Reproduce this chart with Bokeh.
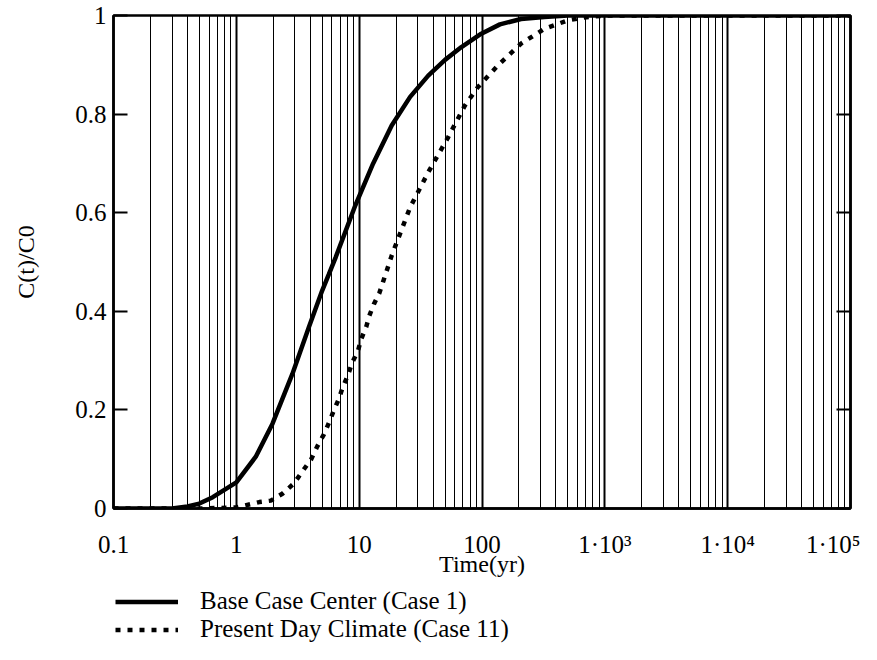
from bokeh.plotting import figure
from bokeh.layouts import column
from bokeh.models import FixedTicker, LinearAxis, Legend, LegendItem, Range1d
from bokeh.embed import file_html
from bokeh.resources import INLINE

# Base Case Center (Case 1)
time_base = [0.1, 0.3, 0.4, 0.5, 0.643, 1.0, 1.44, 1.97, 2.86, 3.9, 5.0, 5.66, 6.45, 9.31, 13.0,
             18.4, 26.0, 36.5, 50.0, 68.0, 98.7, 140.0, 208.0, 322.0, 500.0, 1e3, 1e4, 1e5]
conc_base = [0.0, 0.0, 0.004, 0.01, 0.023, 0.053, 0.105, 0.172, 0.273, 0.368, 0.442, 0.475, 0.51, 0.615, 0.70,
             0.777, 0.835, 0.878, 0.91, 0.936, 0.963, 0.982, 0.993, 0.997, 1.0, 1.0, 1.0, 1.0]

# Present Day Climate (Case 11)
time_present = [0.1, 0.5, 1.0, 1.54, 1.91, 2.37, 2.95, 3.49, 4.07, 4.56, 5.15, 5.66, 6.22, 6.83, 7.35,
                8.12, 8.74, 9.78, 10.4, 11.4, 12.1, 13.2, 14.6, 18.4, 26.0, 36.5, 53.0, 72.4, 92.8,
                135.0, 208.0, 322.0, 497.0, 679.0, 1e3, 1e4, 1e5]
conc_present = [0.0, 0.0, 0.002, 0.013, 0.016, 0.03, 0.051, 0.077, 0.1, 0.126, 0.15, 0.173, 0.199, 0.222, 0.246,
                0.271, 0.295, 0.32, 0.344, 0.368, 0.391, 0.415, 0.437, 0.513, 0.611, 0.682, 0.753, 0.817, 0.855,
                0.899, 0.943, 0.973, 0.99, 0.996, 1.0, 1.0, 1.0]

x_major = [0.1, 1.0, 10.0, 100.0, 1000.0, 10000.0, 100000.0]
x_labels = ["0.1", "1", "10", "100", "1·10³", "1·10⁴", "1·10⁵"]
x_minor = [m * d for d in [0.1, 1, 10, 100, 1000, 10000] for m in range(2, 10)]
y_ticks = [0.0, 0.2, 0.4, 0.6, 0.8, 1.0]
y_labels = ["0", "0.2", "0.4", "0.6", "0.8", "1"]
series_names = ["Base Case Center (Case 1)", "Present Day Climate (Case 11)"]

FONT = "Liberation Serif"
DASH = "5 7"

p = figure(width=860, height=585, x_axis_type="log", output_backend="svg",
           toolbar_location=None, x_range=Range1d(0.1, 1e5), y_range=Range1d(0, 1),
           min_border_left=113, min_border_top=15, min_border_right=10, min_border_bottom=77)
p.background_fill_color = "white"
p.border_fill_color = "white"
p.outline_line_color = "black"
p.outline_line_width = 2.5

# grid
p.xgrid.ticker = FixedTicker(ticks=x_major, minor_ticks=x_minor)
p.xgrid.grid_line_color = "black"
p.xgrid.grid_line_width = 2
p.xgrid.minor_grid_line_color = "black"
p.xgrid.minor_grid_line_width = 1
p.ygrid.visible = False

# x axis
xa = p.xaxis[0]
xa.ticker = FixedTicker(ticks=x_major, minor_ticks=x_minor)
xa.major_label_overrides = {k: v for k, v in zip(x_major, x_labels)}
xa.major_tick_in = 0
xa.major_tick_out = 0
xa.minor_tick_in = 0
xa.minor_tick_out = 0
xa.axis_line_width = 2.5
xa.major_label_standoff = 22
xa.major_label_text_font = FONT
xa.major_label_text_font_size = "25px"
xa.major_label_text_color = "black"
xa.axis_label = "Time(yr)"
xa.axis_label_text_font = FONT
xa.axis_label_text_font_style = "normal"
xa.axis_label_text_font_size = "24px"
xa.axis_label_text_color = "black"
xa.axis_label_standoff = -10

# y axis
ya = p.yaxis[0]
ya.ticker = FixedTicker(ticks=y_ticks)
ya.major_label_overrides = {k: v for k, v in zip(y_ticks, y_labels)}
ya.major_tick_in = 14
ya.major_tick_out = 0
ya.major_tick_line_width = 2
ya.minor_tick_in = 0
ya.minor_tick_out = 0
ya.axis_line_width = 2.5
ya.major_label_standoff = 7
ya.major_label_text_font = FONT
ya.major_label_text_font_size = "25px"
ya.major_label_text_color = "black"
ya.axis_label = "C(t)/C0"
ya.axis_label_text_font = FONT
ya.axis_label_text_font_style = "normal"
ya.axis_label_text_font_size = "24px"
ya.axis_label_text_color = "black"
ya.axis_label_standoff = 33

ra = LinearAxis(ticker=FixedTicker(ticks=y_ticks), major_tick_in=14, major_tick_out=0,
                major_tick_line_width=2, minor_tick_in=0, minor_tick_out=0,
                axis_line_width=2.5, major_label_standoff=0,
                major_label_overrides={k: "" for k in y_ticks})
p.add_layout(ra, "right")

p.line(time_base, conc_base, line_color="black", line_width=4.5)
p.line(time_present, conc_present, line_color="black", line_width=4.5,
       line_dash=DASH, line_cap="butt")

# legend panel below the chart
leg = figure(width=860, height=75, output_backend="svg", toolbar_location=None,
             x_range=Range1d(0, 1), y_range=Range1d(10, 11), min_border=0,
             x_axis_location=None, y_axis_location=None)
leg.outline_line_color = None
leg.grid.visible = False
leg.background_fill_color = "white"
leg.border_fill_color = "white"
l1 = leg.line(time_base, conc_base, line_color="black", line_width=4.5)
l2 = leg.line(time_present, conc_present, line_color="black", line_width=4.5,
              line_dash=DASH, line_cap="butt")
legend = Legend(items=[LegendItem(label=series_names[0], renderers=[l1]),
                       LegendItem(label=series_names[1], renderers=[l2])],
                location="top_left", orientation="vertical",
                glyph_width=63, glyph_height=25, label_standoff=22, spacing=0,
                padding=0, margin=2, border_line_color=None, background_fill_alpha=0,
                label_text_font=FONT, label_text_font_size="25px", label_text_color="black",
                label_height=25)
leg.add_layout(legend)

open("out.html", "w").write(file_html(column(p, leg), INLINE))
